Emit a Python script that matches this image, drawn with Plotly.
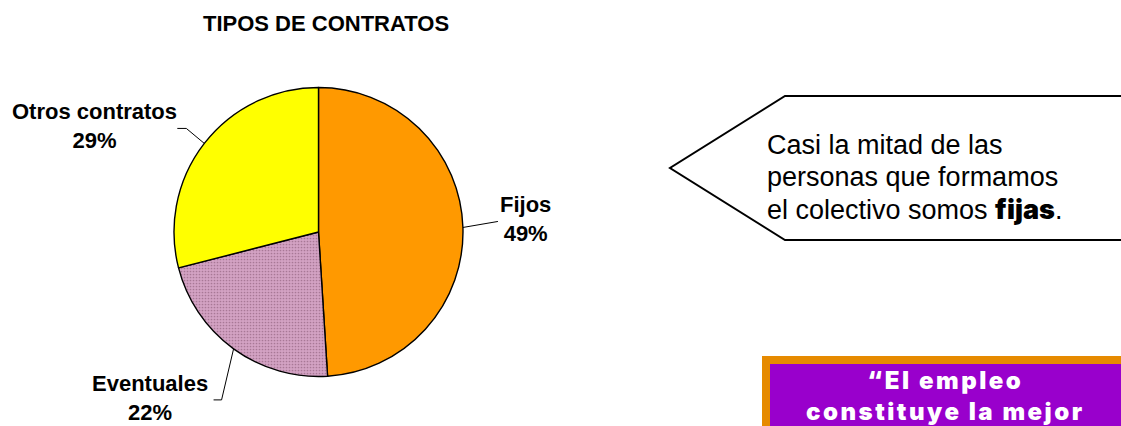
import math
import plotly.graph_objects as go

# ---------------- data ----------------
categories = ["Fijos", "Eventuales", "Otros contratos"]
values = [49, 22, 29]
title_text = "TIPOS DE CONTRATOS"
callout_lines = ["Casi la mitad de las", "personas que formamos", "el colectivo somos "]
callout_bold = "fijas"
quote_lines = ["\u201cEl empleo", "constituye la mejor"]

# ---------------- style ----------------
W, H = 1121, 426
slice_colors = ["#FF9900", "#D3A2C3", "#FFFF00"]
slice_patterns = ["", ".", ""]
FONT = "Arial, 'Liberation Sans', sans-serif"
HEAVY = "Inter"

cx, cy, R = 318.5, 232.0, 144.5  # pie centre / radius in pixels

# label offsets (pixels) relative to the slice edge point: leader elbow, leader end, label centre
label_style = {
    "Fijos": dict(elbow=(35, -6), end=(35, -6), text=(63, -8)),
    "Eventuales": dict(elbow=(-12, 51), end=(-20, 51), text=(-84, 49)),
    "Otros contratos": dict(elbow=(-18, -15), end=(-27, -15), text=(-110, -17)),
}


def px(x):
    return x / W


def py(y):
    return 1 - y / H


fig = go.Figure()
fig.add_trace(go.Pie(
    labels=categories,
    values=values,
    sort=False,
    direction="clockwise",
    rotation=0,
    textinfo="none",
    hoverinfo="label+percent",
    marker=dict(
        colors=slice_colors,
        line=dict(color="#000000", width=1.4),
        pattern=dict(shape=slice_patterns, fgcolor="#A87896", bgcolor=slice_colors,
                     size=3, solidity=0.25),
    ),
    domain=dict(x=[px(cx - R), px(cx + R)], y=[py(cy + R), py(cy - R)]),
    showlegend=False,
))

shapes = []
annotations = []

# title
annotations.append(dict(x=px(326), y=py(23), xref="paper", yref="paper",
                        text="<b>%s</b>" % title_text, showarrow=False,
                        font=dict(family=FONT, size=22, color="#000000"),
                        xanchor="center", yanchor="middle"))

# labels with leader lines computed from the data
total = sum(values)
cum = 0
for cat, v in zip(categories, values):
    mid = (cum + v / 2) / total * 2 * math.pi
    cum += v
    ex = cx + R * math.sin(mid)
    ey = cy - R * math.cos(mid)
    st = label_style[cat]
    bx, by = ex + st["elbow"][0], ey + st["elbow"][1]
    fx, fy = ex + st["end"][0], ey + st["end"][1]
    shapes.append(dict(type="path", xref="paper", yref="paper",
                       path="M %f,%f L %f,%f L %f,%f" % (px(ex), py(ey), px(bx), py(by), px(fx), py(fy)),
                       line=dict(color="#000000", width=1)))
    tx, ty = ex + st["text"][0], ey + st["text"][1]
    pct = round(v / total * 100)
    annotations.append(dict(x=px(tx), y=py(ty), xref="paper", yref="paper",
                            text="<b>%s<br>%d%%</b>" % (cat, pct), showarrow=False,
                            font=dict(family=FONT, size=22, color="#000000"),
                            xanchor="center", yanchor="middle", align="center"))

# callout arrow box
shapes.append(dict(type="path", xref="paper", yref="paper",
                   path="M %f,%f L %f,%f L %f,%f L %f,%f L %f,%f" % (
                       px(1130), py(96), px(785), py(96), px(670), py(168),
                       px(785), py(240), px(1130), py(240)),
                   line=dict(color="#000000", width=2), fillcolor="#FFFFFF"))
line_y = [145, 177, 209]
for i, (txt, yy) in enumerate(zip(callout_lines, line_y)):
    if i == len(callout_lines) - 1:
        txt = txt + "<span style='font-family:%s;font-weight:900'>%s</span>." % (HEAVY, callout_bold)
    annotations.append(dict(x=px(765), y=py(yy), xref="paper", yref="paper",
                            text=txt, showarrow=False,
                            font=dict(family=FONT, size=27, color="#000000"),
                            xanchor="left", yanchor="middle", align="left"))

# quote box
shapes.append(dict(type="rect", xref="paper", yref="paper",
                   x0=px(762), x1=px(1130), y0=py(356), y1=py(460),
                   fillcolor="#E68A00", line=dict(width=0), layer="above"))
shapes.append(dict(type="rect", xref="paper", yref="paper",
                   x0=px(770), x1=px(1130), y0=py(364), y1=py(460),
                   fillcolor="#9900CC", line=dict(width=0), layer="above"))
quote_text = "<br>".join("<span style='font-weight:900;letter-spacing:2.5px'>%s</span>" % t
                         for t in quote_lines)
annotations.append(dict(x=px(945), y=py(396), xref="paper", yref="paper",
                        text=quote_text, showarrow=False,
                        font=dict(family=HEAVY, size=24, color="#FFFFFF"),
                        xanchor="center", yanchor="middle", align="center"))

fig.update_layout(
    width=W, height=H, autosize=False,
    margin=dict(l=0, r=0, t=0, b=0),
    paper_bgcolor="#FFFFFF", plot_bgcolor="#FFFFFF",
    shapes=shapes, annotations=annotations,
)

fig.write_html("out.html", config={"displayModeBar": False},
               post_script="document.body.style.margin='0';document.body.style.overflow='hidden';")
